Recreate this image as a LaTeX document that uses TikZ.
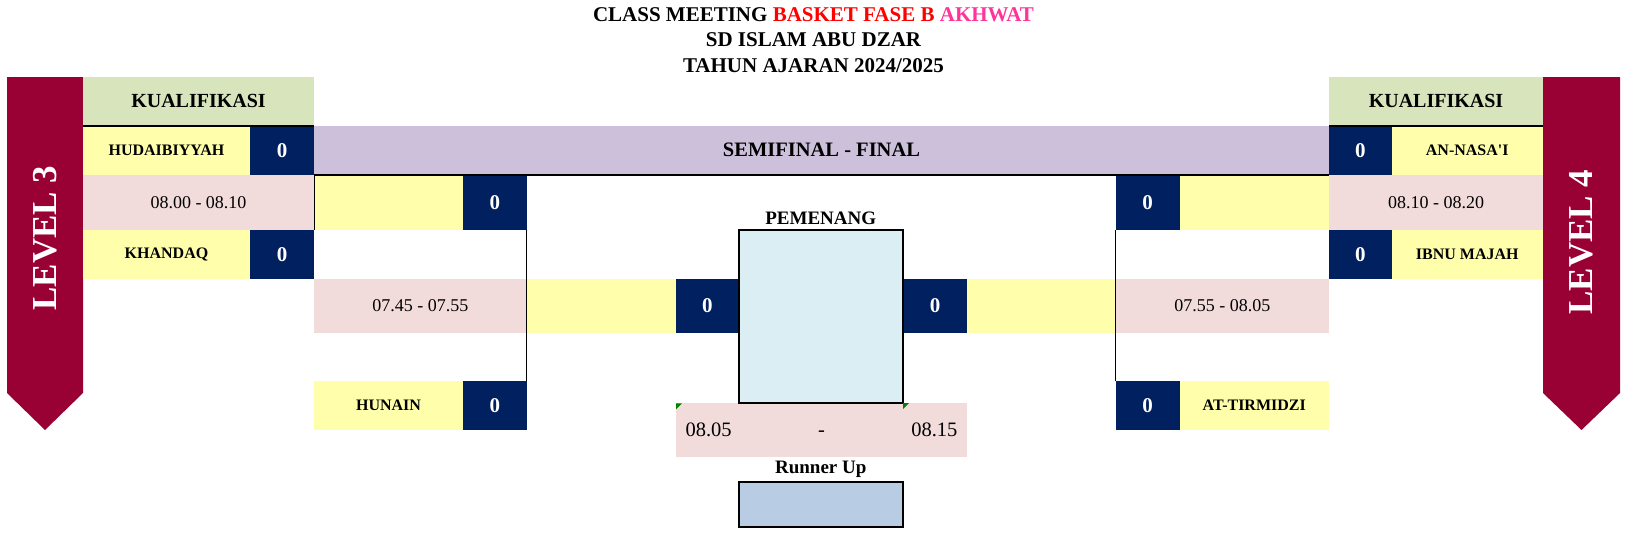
\documentclass[tikz,border=0pt]{standalone}
\usepackage{fontspec}
\setmainfont{Liberation Serif}[Ligatures=TeXOff]
\usepackage{xcolor}
\usetikzlibrary{positioning}
\definecolor{bannerred}{HTML}{990033}
\definecolor{qualgreen}{HTML}{D8E4BC}
\definecolor{teamyel}{HTML}{FFFFAB}
\definecolor{scorenavy}{HTML}{002060}
\definecolor{timepink}{HTML}{F2DCDB}
\definecolor{semilav}{HTML}{CCC0DA}
\definecolor{winblue}{HTML}{DAEEF3}
\definecolor{runblue}{HTML}{B8CCE4}
\definecolor{titlered}{HTML}{FF0000}
\definecolor{titlepink}{HTML}{FF3399}
\definecolor{notegreen}{HTML}{008000}

\tikzset{
  cellbox/.style 2 args={anchor=north west,inner sep=0pt,outer sep=0pt,
        minimum width=#1pt,minimum height=#2pt},
  qualbox/.style={fill=qualgreen,font=\fontsize{20}{20}\selectfont\bfseries},
  teambox/.style={fill=teamyel,font=\fontsize{16}{16}\selectfont\bfseries},
  scorebox/.style={fill=scorenavy,text=white,font=\fontsize{21}{21}\selectfont\bfseries},
  timebox/.style={fill=timepink,font=\fontsize{18}{18}\selectfont},
  headlabel/.style={font=\fontsize{19}{19}\selectfont\bfseries},
  finaltime/.style={font=\fontsize{20.5}{20.5}\selectfont},
  levelbanner/.style={fill=bannerred},
  leveltext/.style={rotate=90,text=white,font=\fontsize{35}{35}\selectfont\bfseries},
  thickrule/.style={line width=2pt},
  bracketline/.style={line width=1.1pt},
  resultbox/.style={draw=black,line width=2pt}
}

\begin{document}
\begin{tikzpicture}[x=1pt,y=-1pt]
  \useasboundingbox (0,0) rectangle (1631,533);

  % title
  \node[font=\fontsize{21}{25.5}\selectfont\bfseries,align=center] (title) at (813.5,40)
    {CLASS MEETING \textcolor{titlered}{BASKET FASE B} \textcolor{titlepink}{AKHWAT}\\
     SD ISLAM ABU DZAR\\TAHUN AJARAN 2024/2025};

  % level banners
  \fill[levelbanner] (7,77) -- (83,77) -- (83,393) -- (45,430) -- (7,393) -- cycle;
  \fill[levelbanner] (1543,77) -- (1620,77) -- (1620,393) -- (1581.5,430) -- (1543,393) -- cycle;
  \node[leveltext] (lvlL) at (45,238) {LEVEL 3};
  \node[leveltext] (lvlR) at (1581.5,242) {LEVEL 4};

  % qualification, left
  \node[cellbox={231}{48.5},qualbox] (qualL) at (83,77) {KUALIFIKASI};
  \node[cellbox={167}{49.5},teambox] (teamA) at (83,125.5) {HUDAIBIYYAH};
  \node[cellbox={64}{49.5},scorebox] (scoreA) at (250,125.5) {0};
  \node[cellbox={231}{55},timebox] (timeA) at (83,175) {08.00 - 08.10};
  \node[cellbox={167}{49},teambox] (teamB) at (83,230) {KHANDAQ};
  \node[cellbox={64}{49},scorebox] (scoreB) at (250,230) {0};

  % qualification, right
  \node[cellbox={214}{48.5},qualbox] (qualR) at (1329,77) {KUALIFIKASI};
  \node[cellbox={62.5}{49.5},scorebox] (scoreE) at (1329,125.5) {0};
  \node[cellbox={151.5}{49.5},teambox] (teamE) at (1391.5,125.5) {AN-NASA'I};
  \node[cellbox={214}{55},timebox] (timeE) at (1329,175) {08.10 - 08.20};
  \node[cellbox={62.5}{49},scorebox] (scoreF) at (1329,230) {0};
  \node[cellbox={151.5}{49},teambox] (teamF) at (1391.5,230) {IBNU MAJAH};

  % semifinal bar
  \node[cellbox={1015}{49.5},fill=semilav,headlabel,font=\fontsize{20.5}{20.5}\selectfont\bfseries] (semi) at (314,125.5) {SEMIFINAL - FINAL};

  % semifinal, left
  \node[cellbox={149}{55},fill=teamyel] (winA) at (314,175) {};
  \node[cellbox={63.5}{55},scorebox] (scoreWA) at (463,175) {0};
  \node[cellbox={212.5}{54},timebox] (timeC) at (314,279) {07.45 - 07.55};
  \node[cellbox={149}{49},teambox] (teamC) at (314,381) {HUNAIN};
  \node[cellbox={63.5}{49},scorebox] (scoreC) at (463,381) {0};

  % semifinal, right
  \node[cellbox={64}{55},scorebox] (scoreWE) at (1115.5,175) {0};
  \node[cellbox={149.5}{55},fill=teamyel] (winE) at (1179.5,175) {};
  \node[cellbox={213.5}{54},timebox] (timeG) at (1115.5,279) {07.55 - 08.05};
  \node[cellbox={64}{49},scorebox] (scoreG) at (1115.5,381) {0};
  \node[cellbox={149.5}{49},teambox] (teamG) at (1179.5,381) {AT-TIRMIDZI};

  % final
  \node[cellbox={149.5}{54},fill=teamyel] (finA) at (526.5,279) {};
  \node[cellbox={62.5}{54},scorebox] (scoreFA) at (676,279) {0};
  \node[cellbox={64}{54},scorebox] (scoreFE) at (903,279) {0};
  \node[cellbox={148.5}{54},fill=teamyel] (finE) at (967,279) {};
  \node[cellbox={291}{53.4},fill=timepink] (timeF) at (676,403.3) {};
  \node[finaltime,anchor=west] (timeFa) at ([xshift=6pt]timeF.west) {08.05};
  \node[finaltime,anchor=base] (timeFb) at (timeFa.base -| timeF.center) {-};
  \node[finaltime,anchor=east] (timeFc) at ([xshift=-6pt]timeF.east) {08.15};
  \node[cellbox={164.5}{173},fill=winblue,resultbox] (winner) at (738.5,230) {};
  \node[headlabel] (winlabel) at (820.75,218) {PEMENANG};
  \node[headlabel] (runlabel) at (820.75,469) {Runner Up};
  \node[cellbox={164.5}{45},fill=runblue,resultbox] (runner) at (738.5,481.7) {};
  \fill[notegreen] (timeF.north west) -- ++(6,0) -- ++(-6,6) -- cycle;
  \fill[notegreen] (winner.south east) -- ++(6,0) -- ++(-6,6) -- cycle;

  % rules and brackets
  \draw[thickrule] (qualL.south west) -- (qualL.south east);
  \draw[thickrule] (qualR.south west) -- (qualR.south east);
  \draw[thickrule] (semi.south west) -- (semi.south east);
  \draw[line width=0.6pt] (winA.north west) -- (winA.south west);
  \draw[bracketline] (scoreWA.south east) -- (scoreC.north east);
  \draw[bracketline] (scoreWE.south west) -- (scoreG.north west);
\end{tikzpicture}
\end{document}
